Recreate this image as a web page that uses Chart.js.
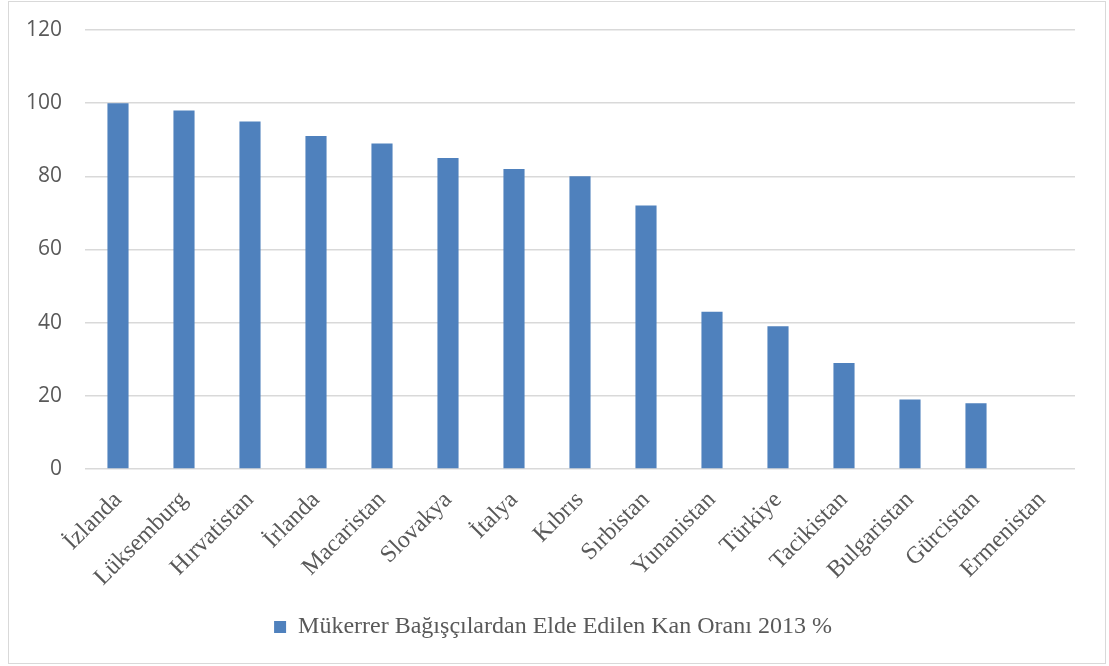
<!DOCTYPE html>
<html>
<head>
<meta charset="utf-8">
<script src="https://cdn.jsdelivr.net/npm/chart.js@4"></script>
<style>
    body {
        margin: 0;
        background: #ffffff;
    }
    #frame {
        position: absolute;
        left: 8px;
        top: 1px;
        width: 1098px;
        height: 663px;
        box-sizing: border-box;
        border: 1px solid #d9d9d9;
        background: #ffffff;
    }
</style>
</head>
<body>

<div id="frame">
    <canvas id="repeatChart"></canvas>
</div>

<script>

// =========================================
// Data
// =========================================

const countries = [
    "İzlanda", "Lüksemburg", "Hırvatistan", "İrlanda", "Macaristan",
    "Slovakya", "İtalya", "Kıbrıs", "Sırbistan", "Yunanistan",
    "Türkiye", "Tacikistan", "Bulgaristan", "Gürcistan", "Ermenistan"
];

const repeatRates = [100, 98, 95, 91, 89, 85, 82, 80, 72, 43, 39, 29, 19, 18, 0];

const yTicks = [0, 20, 40, 60, 80, 100, 120];

const seriesLabel = "Mükerrer Bağışçılardan Elde Edilen Kan Oranı 2013 %";


// =========================================
// Chart
// =========================================

const textColor = "#595959";
const gridColor = "#d9d9d9";
const serifFont = "'Liberation Serif', 'Times New Roman', serif";

Chart.defaults.color = textColor;

// nudge the legend a little to the right, under the middle of the plot
const legendShift = {

    id: "legendShift",

    afterLayout(chart) {

        const legend = chart.legend;

        if (legend) {

            legend.left += 11;

            legend.right += 11;

        }

    }

};

new Chart(document.getElementById("repeatChart"), {

    type: "bar",

    data: {

        labels: countries,

        datasets: [{

            label: seriesLabel,

            data: repeatRates,

            backgroundColor: "#4f81bd",

            borderWidth: 0,

            categoryPercentage: 1,

            barPercentage: 0.32

        }]

    },

    plugins: [legendShift],

    options: {

        responsive: true,

        maintainAspectRatio: false,

        animation: false,

        layout: {

            padding: { top: 28, right: 30, bottom: 14, left: 0 }

        },

        plugins: {

            legend: {

                position: "bottom",

                labels: {

                    boxWidth: 12,

                    boxHeight: 12,

                    padding: 10,

                    color: textColor,

                    font: { family: serifFont, size: 24 }

                }

            },

            tooltip: { enabled: false }

        },

        scales: {

            x: {

                grid: { display: false },

                border: { display: false },

                ticks: {

                    autoSkip: false,

                    maxRotation: 45,

                    minRotation: 45,

                    padding: 9,

                    color: textColor,

                    font: { family: serifFont, size: 24 }

                },

                afterFit(scale) {

                    scale.height = 136;

                }

            },

            y: {

                min: 0,

                max: 120,

                afterBuildTicks(scale) {

                    scale.ticks = yTicks.map(v => ({ value: v }));

                },

                // invisible tick marks keep the labels clear of the plot
                grid: {

                    color: gridColor,

                    lineWidth: 1.5,

                    drawTicks: true,

                    tickLength: 20,

                    tickColor: "rgba(0, 0, 0, 0)"

                },

                border: { display: false },

                ticks: {

                    padding: 3,

                    color: textColor,

                    font: { family: "'Open Sans', sans-serif", size: 21 }

                },

                afterFit(scale) {

                    scale.width = 76;

                }

            }

        }

    }

});

</script>

</body>
</html>
